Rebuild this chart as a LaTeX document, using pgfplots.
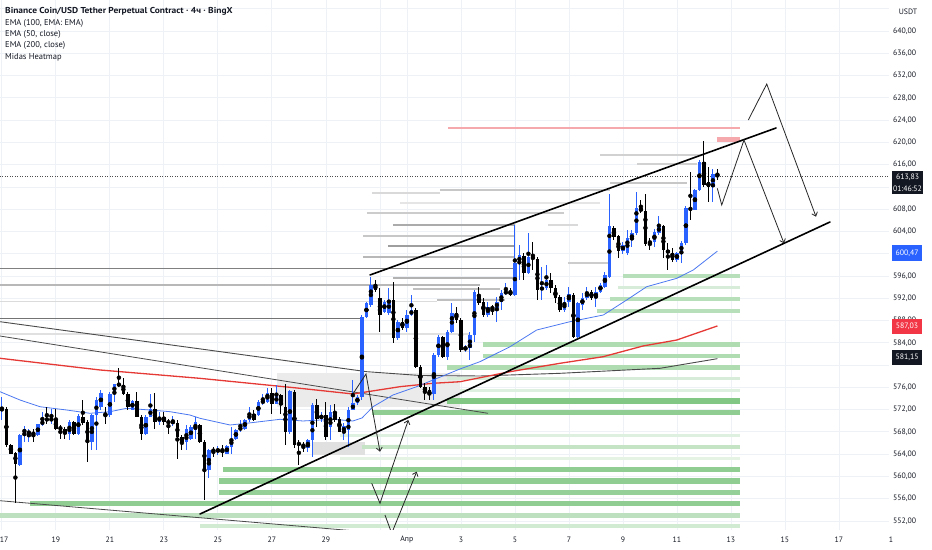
\documentclass[border=0pt]{standalone}
\usepackage{fontspec}
\setmainfont{PT Sans}
\usepackage{pgfplots}
\pgfplotsset{compat=1.18}
\usepackage{pgfplotstable}
\usetikzlibrary{arrows.meta}
\definecolor{tvblue}{HTML}{2962FF}
\definecolor{tvdark}{HTML}{131722}
\definecolor{emablue}{HTML}{4C78F0}
\definecolor{emared}{HTML}{E53935}
\definecolor{emadark}{HTML}{4A4A4A}
\definecolor{hmgreen}{HTML}{7CC47F}
\definecolor{gridc}{HTML}{EEF1F6}
\definecolor{lblred}{HTML}{F23645}
\definecolor{pinkl}{HTML}{F5A9AD}

\pgfplotstableread{
k o h l c
0 571.9 574.3 570.1 572.2
1 572.2 572.5 565.3 565.6
2 565.6 565.9 564.0 564.1
3 564.2 564.4 555.2 562.3
4 562.0 567.7 561.9 567.4
5 567.7 569.0 566.2 568.6
6 567.8 568.6 566.2 568.0
7 568.0 568.6 566.2 567.4
8 567.4 569.5 567.3 569.4
9 569.2 571.6 569.0 570.1
10 570.4 572.5 569.5 570.1
11 570.1 572.2 569.5 570.4
12 570.3 572.2 568.3 568.5
13 568.9 569.2 566.8 568.4
14 568.5 568.9 566.8 567.7
15 567.7 570.1 566.6 569.8
16 569.8 569.9 567.4 567.7
17 567.7 571.3 567.4 570.8
18 570.7 573.7 569.2 569.6
19 569.8 570.1 562.6 566.2
20 566.2 571.3 564.7 571.1
21 571.0 574.3 564.7 573.7
22 572.5 575.5 572.0 575.0
23 571.3 572.5 569.5 571.0
24 571.0 575.2 570.7 574.9
25 574.9 576.7 573.4 576.6
26 576.6 579.4 576.1 576.4
27 576.4 577.6 574.6 574.9
28 574.9 575.2 572.0 572.4
29 572.0 573.7 571.9 573.6
30 573.6 575.2 570.6 570.7
31 570.7 571.0 566.6 567.7
32 567.7 571.0 567.4 570.7
33 570.7 574.9 570.6 572.2
34 572.2 575.0 568.5 569.8
35 569.8 571.6 569.2 570.7
36 570.7 571.6 569.2 569.8
37 569.9 570.4 567.7 569.6
38 569.6 570.8 569.0 569.9
39 569.6 570.1 563.2 567.1
40 567.1 567.4 564.7 566.2
41 566.2 569.2 564.7 568.6
42 566.8 569.2 566.5 568.9
43 568.3 570.7 566.8 569.8
44 569.2 569.5 566.0 566.2
45 566.2 566.5 555.8 561.2
46 561.2 565.0 559.7 564.7
47 564.9 565.3 563.5 564.4
48 564.4 565.5 563.8 565.0
49 565.0 565.6 563.5 564.4
50 564.1 565.6 564.0 565.5
51 565.3 568.9 564.1 566.8
52 566.8 568.6 566.5 568.3
53 568.3 570.1 568.0 568.9
54 568.6 570.4 568.3 570.1
55 570.1 572.5 569.8 571.3
56 571.3 571.9 570.0 570.1
57 571.0 573.7 570.8 573.4
58 573.1 574.9 572.8 573.7
59 573.4 575.8 573.1 575.0
60 575.0 575.8 571.3 573.1
61 573.1 576.4 573.0 574.6
62 574.6 574.9 571.3 572.8
63 572.5 576.7 565.6 568.0
64 568.0 575.5 567.7 575.4
65 575.2 575.5 565.2 565.6
66 566.1 566.5 562.0 565.6
67 565.9 566.2 564.4 565.2
68 565.2 566.8 564.4 566.5
69 566.5 573.1 563.5 572.8
70 572.8 574.0 568.9 570.4
71 570.4 571.6 569.8 571.0
72 571.0 573.4 566.5 567.1
73 568.9 572.8 566.5 571.6
74 571.6 573.1 569.8 570.1
75 570.3 570.7 568.0 568.0
76 568.0 569.6 566.5 569.0
77 568.3 572.5 565.3 571.9
78 571.9 577.3 571.9 573.1
79 573.1 574.6 572.8 574.3
80 574.3 589.0 573.8 588.7
81 588.7 591.4 588.4 591.1
82 590.8 595.9 590.5 594.4
83 594.4 595.3 593.2 593.5
84 592.0 593.8 586.0 589.0
85 589.6 591.7 589.3 591.4
86 589.3 593.8 589.0 591.7
87 591.7 595.0 583.9 584.8
88 584.8 588.1 584.5 587.8
89 587.8 588.4 586.3 586.6
90 586.6 589.9 586.0 589.0
91 589.0 592.6 588.9 589.9
92 589.9 590.2 579.4 579.7
93 579.7 580.0 575.8 576.1
94 576.1 576.7 573.7 575.2
95 575.5 576.1 573.7 574.6
96 574.9 582.1 573.7 581.8
97 581.8 585.4 581.5 585.1
98 585.1 585.2 581.2 581.5
99 581.5 586.3 580.9 586.0
100 586.0 591.1 585.7 589.3
101 589.3 590.5 587.5 588.1
102 588.1 588.4 582.4 582.7
103 582.7 583.6 582.4 583.3
104 583.0 586.0 580.9 585.4
105 585.4 593.5 584.2 593.2
106 592.4 594.1 590.8 591.1
107 591.4 592.0 588.7 589.0
108 589.0 591.4 588.7 590.5
109 590.5 590.8 589.0 590.0
110 590.2 592.3 587.8 591.4
111 591.4 593.5 589.9 592.9
112 592.9 594.7 592.6 593.2
113 593.3 593.8 592.4 592.6
114 592.6 605.2 592.4 598.3
115 598.3 601.6 595.3 599.8
116 599.6 600.1 595.3 596.5
117 596.5 603.7 596.3 599.5
118 599.4 602.2 597.1 599.1
119 599.1 599.5 591.7 593.5
120 593.4 597.7 591.7 594.1
121 593.8 598.0 593.5 595.3
122 595.3 596.5 592.9 593.8
123 593.8 594.4 591.1 592.0
124 592.2 592.6 589.6 589.9
125 589.9 592.3 589.6 591.3
126 591.3 594.1 590.5 592.7
127 592.6 593.0 584.9 585.1
128 585.1 591.4 584.9 591.1
129 590.8 592.9 589.9 592.0
130 592.0 594.1 591.7 593.2
131 593.2 593.5 591.7 592.0
132 592.0 594.1 590.5 593.2
133 593.2 594.7 593.0 594.4
134 594.1 596.8 593.8 596.2
135 595.9 610.8 595.6 604.9
136 604.6 604.9 602.5 603.1
137 603.1 603.4 599.2 600.4
138 600.4 602.2 599.9 601.6
139 600.1 604.2 599.8 602.8
140 602.5 604.2 601.3 603.7
141 603.7 611.1 603.4 608.2
142 608.2 609.6 607.3 607.6
143 607.6 610.8 601.4 601.7
144 602.2 602.8 600.7 601.9
145 602.2 604.5 601.3 603.9
146 603.8 606.7 603.4 604.9
147 604.9 605.2 599.2 600.7
148 600.7 601.9 597.1 600.1
149 600.1 601.0 598.6 598.9
150 598.9 600.4 598.6 600.1
151 600.1 602.2 598.3 601.9
152 601.9 608.5 601.6 608.2
153 608.2 614.7 606.1 607.9
154 607.9 611.6 607.9 611.4
155 611.4 616.8 611.3 616.5
156 616.5 620.3 612.0 612.3
157 612.9 615.6 609.3 612.0
158 612.0 615.3 609.3 614.4
159 614.3 615.2 613.2 613.83
}\candles

% heatmap bars: price, start, intensity, width
\newcommand{\gbar}[4]{\addplot[mark=none, line width=#4bp, color=hmgreen!#3!white] coordinates {(#2,#1)(164.02,#1)};}
\newcommand{\hmline}[5]{\addplot[mark=none, line width=#5bp, color=black!#4] coordinates {(#2,#1)(#3,#1)};}

\begin{document}
\begin{tikzpicture}
\path[use as bounding box] (0,0) rectangle (932bp,550bp);
\begin{axis}[
  scale only axis, width=889bp, height=530bp,
  at={(0,20bp)}, anchor=south west,
  xmin=-0.42, xmax=197.13, ymin=550.38, ymax=645.57,
  axis line style={draw=none},
  major tick length=0pt,
  xmajorgrids, ymajorgrids,
  major grid style={draw=gridc, line width=0.8bp},
  ytick={552,556,560,564,568,572,576,584,588,592,596,604,608,616,620,624,628,632,636,640},
  extra y ticks={580,600,612,644},
  extra y tick labels={},
  extra y tick style={grid=major},
  yticklabel pos=right,
  yticklabel style={anchor=west, inner sep=0pt, xshift=4bp, font=\fontsize{7.8bp}{9bp}\selectfont, text=tvdark,
    /pgf/number format/.cd, fixed, fixed zerofill, precision=2, use comma, assume math mode=true},
  xtick={0,12,24,36,48,60,72,90,102,114,126,138,150,162,174,186},
  xticklabels={\hphantom{1}17,19,21,23,25,27,29,Апр,3,5,7,9,11,13,15,17},
  extra x ticks={84},
  extra x tick labels={},
  extra x tick style={grid=major},
  xticklabel style={anchor=center, inner sep=0pt, yshift=-10bp, font=\fontsize{7.8bp}{9bp}\selectfont, text=tvdark},
]
% --- Midas heatmap: grey levels above price
\hmline{617.73}{132.91}{155.8}{18}{2}
\hmline{616.11}{141.13}{154.47}{18}{2}
\hmline{612.70}{135.13}{152.24}{22}{2}
\hmline{611.44}{97.36}{135.13}{22}{2}
\hmline{610.96}{82.24}{97.36}{15}{2}
\hmline{609.10}{88.47}{133.0}{10}{2}
\hmline{607.26}{81.13}{125.0}{20}{2}
\hmline{605.16}{86.91}{114.02}{33}{2}
\hmline{605.16}{121.4}{128.0}{15}{2}
\hmline{603.18}{80.24}{114.02}{22}{2}
\hmline{601.39}{85.8}{114.02}{38}{2}
\hmline{599.46}{80.24}{114.02}{28}{2}
\hmline{598.28}{125.8}{135.13}{20}{2}
\hmline{597.38}{-0.42}{114.02}{50}{1.3}
\hmline{595.58}{86.91}{114.02}{30}{2}
\hmline{594.38}{-0.42}{106.24}{28}{1.5}
\hmline{593.61}{91.36}{110.69}{25}{2}
\hmline{591.69}{96.69}{111.8}{25}{2}
\hmline{591.38}{-0.42}{96.69}{14}{1.5}
\hmline{588.40}{-0.42}{79.58}{55}{1.2}
\hmline{585.58}{-0.42}{104.0}{12}{1.5}
\hmline{582.40}{-0.42}{106.24}{12}{1.5}
\addplot[mark=none, line width=34bp, color=black!8] coordinates {(61.1,575.5)(101.8,575.5)};
\addplot[mark=none, line width=13bp, color=black!12] coordinates {(69.13,564.93)(80.69,564.93)};
% --- Midas heatmap: green levels below price
\gbar{596.00}{138.02}{55}{4}
\gbar{593.90}{136.91}{30}{3}
\gbar{591.81}{135.13}{55}{4}
\gbar{589.77}{132.24}{55}{4}
\gbar{583.73}{106.91}{60}{4.5}
\gbar{581.63}{106.91}{60}{4.5}
\gbar{579.60}{98.91}{60}{4.5}
\gbar{577.50}{98.91}{30}{3}
\gbar{575.52}{101.8}{25}{3}
\gbar{573.55}{98.91}{95}{6}
\gbar{571.45}{82.18}{85}{5.5}
\gbar{567.44}{75.1}{25}{3}
\gbar{565.34}{79.96}{45}{4}
\gbar{563.26}{75.1}{20}{3}
\gbar{561.28}{49.13}{85}{5.5}
\gbar{559.18}{48.24}{85}{5.5}
\gbar{557.15}{48.24}{80}{5.5}
\gbar{555.17}{6.24}{85}{5.5}
\gbar{552.95}{-0.42}{50}{4.5}
\gbar{551.10}{44.02}{35}{4}
% resistance level and zone
\addplot[mark=none, line width=1.2bp, color=pinkl] coordinates {(99.13,622.58)(164.02,622.58)};
\addplot[mark=none, line width=4.5bp, color=pinkl] coordinates {(158.9,620.5)(164.02,620.5)};
% last price line
\addplot[mark=none, line width=0.6bp, color=black!70, dash pattern=on 1bp off 1.5bp] coordinates {(-0.42,613.83)(197.13,613.83)};
% --- other drawn lines
\addplot[mark=none, line width=0.8bp, color=emadark] coordinates {(-0.42,585.22)(108.02,571.34)};
\addplot[mark=none, line width=0.8bp, color=emadark] coordinates {(-0.42,555.64)(77.36,550.29)};
% --- EMAs
\addplot[mark=none, line width=0.9bp, color=emadark] coordinates {
(-0.42,587.79)(21.8,585.35)(44.02,582.91)(66.24,580.45)(81.13,578.81)(92.91,578.13)(106.24,578.04)(124.02,578.52)(146.24,579.42)(159,581.15)};
\addplot[mark=none, line width=1.3bp, color=emared] coordinates {
(-0.42,581.22)(21.8,579.12)(44.02,577.62)(66.24,575.83)(78.02,574.81)(88.47,576.12)(95.8,576.73)(101.8,577.01)(112.91,578.81)(124.02,580.32)(133.58,581.50)(142.47,583.43)(149.96,584.50)(159,587.03)};
\addplot[mark=none, line width=0.8bp, color=emablue] coordinates {
(-0.42,575.22)(4.02,573.73)(8.47,572.52)(14.4,571.93)(19.58,571.34)(24.02,571.63)(27.73,572.24)(32.91,571.93)(37.36,571.63)(41.8,571.03)(44.02,570.44)(50.69,569.24)(54.4,569.55)(61.8,570.26)(66.91,569.96)(73.58,570.26)(78.02,569.96)(80.02,570.5)(82.47,572.52)(86.91,574.63)(92.18,576.12)(95.8,577.32)(101.8,579.3)(106.24,580.61)(112.91,583.30)(118.84,586.3)(126.24,587.79)(133.64,588.99)(138.84,591.69)(143.29,594.08)(149.96,595.58)(153.64,597.08)(159,600.47)};
% --- candles: wicks
\addplot[only marks, mark=none, restrict expr to domain={\thisrow{c}-\thisrow{o}}{0:100},
  error bars/.cd, y dir=both, y explicit, error mark=none, error bar style={line width=0.9bp, draw=tvblue}]
  table[x=k, y expr={(\thisrow{h}+\thisrow{l})/2}, y error expr={(\thisrow{h}-\thisrow{l})/2}] {\candles};
\addplot[only marks, mark=none, restrict expr to domain={\thisrow{c}-\thisrow{o}}{-100:-0.001},
  error bars/.cd, y dir=both, y explicit, error mark=none, error bar style={line width=0.9bp, draw=black}]
  table[x=k, y expr={(\thisrow{h}+\thisrow{l})/2}, y error expr={(\thisrow{h}-\thisrow{l})/2}] {\candles};
% --- candles: bodies
\addplot[only marks, mark=none, restrict expr to domain={\thisrow{c}-\thisrow{o}}{0:100},
  error bars/.cd, y dir=both, y explicit, error mark=none, error bar style={line width=3.3bp, draw=tvblue}]
  table[x=k, y expr={(\thisrow{o}+\thisrow{c})/2}, y error expr={max(abs(\thisrow{c}-\thisrow{o})/2,0.09)}] {\candles};
\addplot[only marks, mark=none, restrict expr to domain={\thisrow{c}-\thisrow{o}}{-100:-0.001},
  error bars/.cd, y dir=both, y explicit, error mark=none, error bar style={line width=3.3bp, draw=black}]
  table[x=k, y expr={(\thisrow{o}+\thisrow{c})/2}, y error expr={max(abs(\thisrow{c}-\thisrow{o})/2,0.09)}] {\candles};
% --- channel
\addplot[mark=none, line width=1.6bp, color=black, line cap=round] coordinates {(81.8,596.18)(172.02,622.58)};
\addplot[mark=none, line width=1.6bp, color=black, line cap=round] coordinates {(44.02,553.25)(184.02,605.70)};
% --- projected paths
\addplot[mark=none, line width=0.8bp, color=black!85, -{Straight Barb[length=3.5bp,width=6bp]}] coordinates {(158.98,611.75)(159.96,608.75)(164.91,620.42)(173.8,601.87)};
\addplot[mark=none, line width=0.8bp, color=black!85, -{Straight Barb[length=3.5bp,width=6bp]}] coordinates {(165.87,624.02)(169.96,630.48)(180.91,606.65)};
\addplot[mark=none, line width=0.8bp, color=black!85, -{Straight Barb[length=3.5bp,width=6bp]}] coordinates {(78.09,574.93)(80.91,578.40)(84.02,564.44)};
\addplot[mark=none, line width=0.8bp, color=black!85, -{Straight Barb[length=3.5bp,width=6bp]}] coordinates {(82.18,558.77)(84.02,555.18)(90.31,570.14)};
\addplot[mark=none, line width=0.8bp, color=black!85, -{Straight Barb[length=3.5bp,width=6bp]}] coordinates {(85.13,553.07)(86.62,549.79)(92.18,560.85)};
\end{axis}
% header / legend
\begin{scope}[every node/.style={anchor=west, inner sep=0pt, text=tvdark, font=\fontsize{8.5bp}{10bp}\selectfont}]
\node[font=\fontsize{8.6bp}{10bp}\selectfont] at (5bp,538.3bp) {\scalebox{1.1}[1]{\bfseries Binance Coin/USD Tether Perpetual Contract · 4ч · BingX}};
\node at (5bp,526.7bp) {EMA (100, EMA: EMA)};
\node at (5bp,515.4bp) {EMA (50, close)};
\node at (5bp,504.1bp) {EMA (200, close)};
\node at (5bp,492.8bp) {Midas Heatmap};
\end{scope}
\node[inner sep=0pt, text=tvdark, font=\fontsize{7.8bp}{9bp}\selectfont] at (908bp,538bp) {USDT};
\node[inner sep=0pt, text=tvdark, font=\fontsize{7.8bp}{9bp}\selectfont] at (891bp,10bp) {1};
% price labels on the scale
\fill[tvdark] (892bp,356bp) rectangle (923bp,379bp);
\node[inner sep=0pt, text=white, font=\fontsize{7.8bp}{9bp}\selectfont] at (907.5bp,373bp) {613,83};
\node[inner sep=0pt, text=white, font=\fontsize{7.8bp}{9bp}\selectfont] at (907.5bp,361.5bp) {01:46:52};
\fill[tvblue] (892bp,289bp) rectangle (922bp,305bp);
\node[inner sep=0pt, text=white, font=\fontsize{7.8bp}{9bp}\selectfont] at (907bp,297bp) {600,47};
\fill[lblred] (892bp,216bp) rectangle (922bp,231bp);
\node[inner sep=0pt, text=white, font=\fontsize{7.8bp}{9bp}\selectfont] at (907bp,223.5bp) {587,03};
\fill[tvdark] (892bp,185bp) rectangle (922bp,200bp);
\node[inner sep=0pt, text=white, font=\fontsize{7.8bp}{9bp}\selectfont] at (907bp,192.5bp) {581,15};
\end{tikzpicture}
\end{document}
